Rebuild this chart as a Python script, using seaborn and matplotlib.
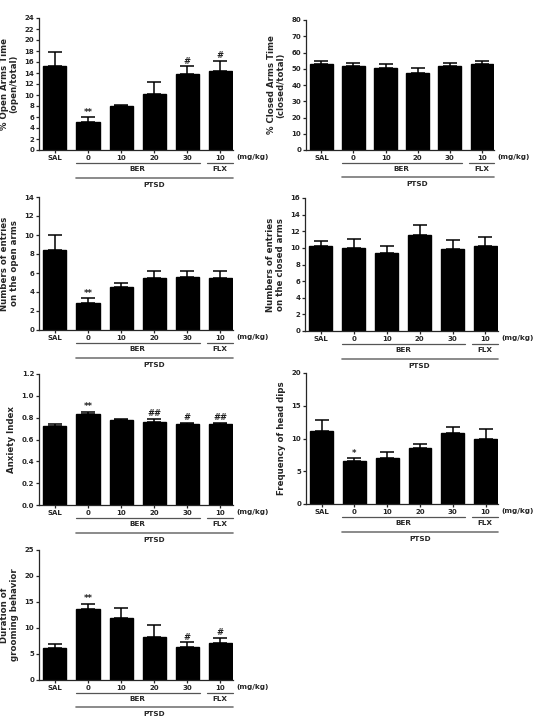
import numpy as np
import pandas as pd
import matplotlib
matplotlib.use("Agg")
import matplotlib.pyplot as plt
import matplotlib.transforms as mtransforms
import seaborn as sns

# groups and tick labels
groups = ["SAL", "BER 0", "BER 10", "BER 20", "BER 30", "FLX 10"]
tick_labels = ["SAL", "0", "10", "20", "30", "10"]

# % open arms time
open_time_mean = [15.3, 5.1, 8.0, 10.1, 13.9, 14.4]
open_time_sem = [2.6, 0.9, 0.2, 2.3, 1.3, 1.8]
open_time_marks = ["", "**", "", "", "#", "#"]

# % closed arms time
closed_time_mean = [53.0, 51.8, 50.2, 47.5, 51.6, 53.1]
closed_time_sem = [1.8, 1.8, 2.5, 3.1, 2.0, 1.8]
closed_time_marks = ["", "", "", "", "", ""]

# entries on open arms
open_entries_mean = [8.45, 2.8, 4.5, 5.5, 5.63, 5.5]
open_entries_sem = [1.6, 0.55, 0.43, 0.75, 0.63, 0.7]
open_entries_marks = ["", "**", "", "", "", ""]

# entries on closed arms
closed_entries_mean = [10.2, 10.0, 9.4, 11.5, 9.9, 10.2]
closed_entries_sem = [0.65, 1.1, 0.8, 1.2, 1.1, 1.1]
closed_entries_marks = ["", "", "", "", "", ""]

# anxiety index
anxiety_mean = [0.72, 0.836, 0.777, 0.759, 0.74, 0.74]
anxiety_sem = [0.02, 0.02, 0.012, 0.032, 0.012, 0.012]
anxiety_marks = ["", "**", "", "##", "#", "##"]

# head dips
head_dips_mean = [11.2, 6.5, 7.0, 8.5, 10.8, 9.95]
head_dips_sem = [1.6, 0.5, 1.0, 0.7, 1.0, 1.5]
head_dips_marks = ["", "*", "", "", "", ""]

# grooming
grooming_mean = [6.1, 13.6, 12.0, 8.3, 6.35, 7.2]
grooming_sem = [0.8, 1.1, 1.8, 2.2, 0.9, 0.9]
grooming_marks = ["", "**", "", "", "#", "#"]

sns.set_style("ticks")
plt.rcParams["font.family"] = ["DejaVu Sans"]
plt.rcParams["font.weight"] = "bold"

W, H = 541, 718
fig = plt.figure(figsize=(W / 100, H / 100), dpi=100)


def px_axes(left, top, right, bottom):
    return fig.add_axes([left / W, 1 - bottom / H, (right - left) / W, (bottom - top) / H])


def draw_panel(ax, mean, sem, marks, ylabel, yticks, fmt="{:g}"):
    df = pd.DataFrame({"group": groups, "value": mean})
    sns.barplot(data=df, x="group", y="value", order=groups, color="black",
                edgecolor="black", width=0.7, errorbar=None, ax=ax, saturation=1)
    x = np.arange(len(groups))
    ax.errorbar(x, mean, yerr=[np.zeros(len(mean)), sem], fmt="none",
                ecolor="black", elinewidth=1.1, capsize=4.8, capthick=1.1)
    for i, m in enumerate(marks):
        if m:
            ax.annotate(m, (i, mean[i] + sem[i]), xytext=(0, 0.3),
                        textcoords="offset points", ha="center", va="bottom",
                        fontsize=6, color="#222222")
    ax.set_xlim(-0.48, 5.38)
    ax.set_ylim(yticks[0], yticks[-1])
    ax.set_yticks(yticks)
    ax.set_yticklabels([fmt.format(t) for t in yticks])
    ax.set_xticks(x)
    ax.set_xticklabels(tick_labels)
    ax.set_xlabel("")
    ax.set_ylabel(ylabel, fontsize=6.2, fontweight="bold", labelpad=4, linespacing=1.1)
    ax.tick_params(axis="both", labelsize=5, length=2, width=0.9, pad=1.5)
    for s in ["top", "right"]:
        ax.spines[s].set_visible(False)
    for s in ["left", "bottom"]:
        ax.spines[s].set_linewidth(0.9)

    # group brackets under the axis
    trans = mtransforms.blended_transform_factory(ax.transData, ax.transAxes)
    ax.text(5.47, -0.055, "(mg/kg)", transform=trans, fontsize=5.2,
            ha="left", va="center", clip_on=False)
    ax.plot([0.63, 4.38], [-0.1, -0.1], transform=trans, color="#555555",
            lw=0.9, clip_on=False)
    ax.plot([4.6, 5.38], [-0.1, -0.1], transform=trans, color="#555555",
            lw=0.9, clip_on=False)
    ax.text(2.5, -0.145, "BER", transform=trans, fontsize=5.2, ha="center", va="center")
    ax.text(4.99, -0.145, "FLX", transform=trans, fontsize=5.2, ha="center", va="center")
    ax.plot([0.63, 5.38], [-0.21, -0.21], transform=trans, color="#777777",
            lw=1.2, clip_on=False)
    ax.text(3.0, -0.265, "PTSD", transform=trans, fontsize=5.2, ha="center", va="center")


ax1 = px_axes(39, 18, 233, 150)
draw_panel(ax1, open_time_mean, open_time_sem, open_time_marks,
           "% Open Arms Time\n(open/total)", list(range(0, 25, 2)))

ax2 = px_axes(306, 20, 494, 150)
draw_panel(ax2, closed_time_mean, closed_time_sem, closed_time_marks,
           "% Closed Arms Time\n(closed/total)", list(range(0, 81, 10)))

ax3 = px_axes(39, 197, 233, 330)
draw_panel(ax3, open_entries_mean, open_entries_sem, open_entries_marks,
           "Numbers of entries\non the open arms", list(range(0, 15, 2)))

ax4 = px_axes(305, 198, 498, 331)
draw_panel(ax4, closed_entries_mean, closed_entries_sem, closed_entries_marks,
           "Numbers of entries\non the closed arms", list(range(0, 17, 2)))

ax5 = px_axes(39, 374, 233, 505)
draw_panel(ax5, anxiety_mean, anxiety_sem, anxiety_marks,
           "Anxiety Index", [0.0, 0.2, 0.4, 0.6, 0.8, 1.0, 1.2], fmt="{:.1f}")

ax6 = px_axes(306, 373, 498, 504)
draw_panel(ax6, head_dips_mean, head_dips_sem, head_dips_marks,
           "Frequency of head dips", [0, 5, 10, 15, 20])

ax7 = px_axes(39, 550, 233, 680)
draw_panel(ax7, grooming_mean, grooming_sem, grooming_marks,
           "Duration of\ngrooming behavior", [0, 5, 10, 15, 20, 25])

fig.savefig("out.png", dpi=100)
